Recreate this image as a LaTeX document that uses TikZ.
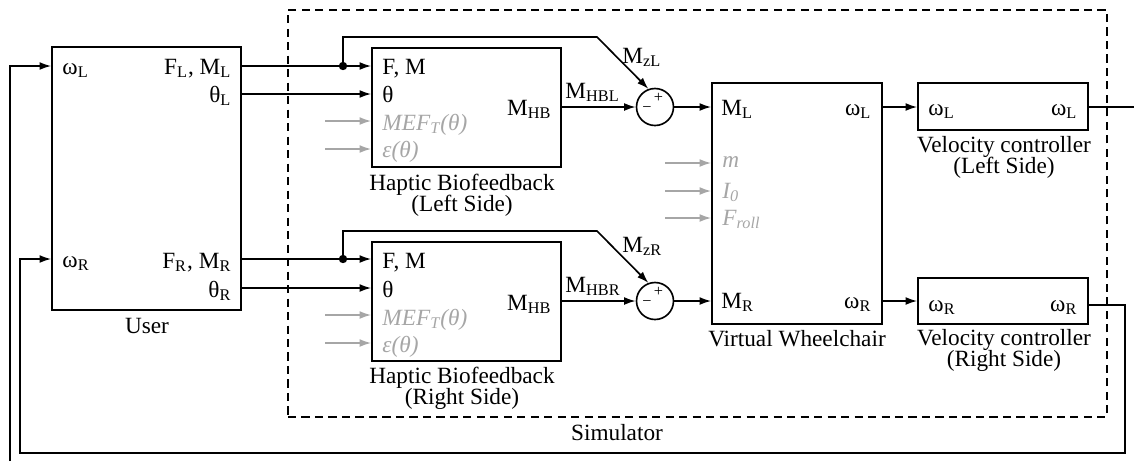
\documentclass[tikz,border=0pt]{standalone}
\usepackage{fontspec}
\setmainfont{Liberation Serif}
\usetikzlibrary{arrows.meta}
\def\pxu{0.43pt}
\tikzset{
  sig/.style={-{Latex[length=5pt,width=3.4pt]}, line width=0.7pt},
  aux/.style={-{Latex[length=5pt,width=3.4pt]}, line width=0.7pt, black!35},
  wire/.style={line width=0.7pt},
  auxlbl/.style={text=black!35, font=\itshape},
  capt/.style={align=center, anchor=north},
}
\newcommand{\wcblock}[4]{\node at (#2) (#1) [draw, line width=0.7pt, minimum width=#3*\pxu, minimum height=#4*\pxu] {};}
\newcommand{\wcsum}[2]{\node at (#2) (#1) [circle, draw, line width=0.7pt, minimum size=37*\pxu] {};
  \node [font=\fontsize{7}{8}\selectfont] (#1p) at ([xshift=1.5pt, yshift=4pt]#1.center) {+};
  \node [font=\fontsize{7}{8}\selectfont] (#1m) at ([xshift=-3.5pt, yshift=-1.2pt]#1.center) {\textminus};}

\begin{document}
\begin{tikzpicture}[x=\pxu, y=-\pxu, every node/.style={inner sep=0pt}]
\useasboundingbox (0,0) rectangle (1134,461);

% simulator frame
\node at (697.5,213.5) (sim) [draw, line width=0.7pt, dash pattern=on 3.5pt off 2.3pt, minimum width=819*\pxu, minimum height=407*\pxu] {};
\node [anchor=north] (simcap) at (617,424) {Simulator};

% blocks
\wcblock{user}{146.5,178.5}{189}{263}
\wcblock{hbL}{466.5,107.5}{189}{119}
\wcblock{hbR}{466.5,301.5}{189}{119}
\wcblock{vw}{797,203.5}{170}{241}
\wcblock{vcL}{1003,106.5}{170}{47}
\wcblock{vcR}{1003,301}{170}{46}
\wcsum{sumL}{655,107}
\wcsum{sumR}{655,301}

% captions
\node [capt] (usercap) at (147,318) {User};
\node [capt] (hbLcap) at (462,174) {Haptic Biofeedback\\[-3.2pt](Left Side)};
\node [capt] (hbRcap) at (462,367) {Haptic Biofeedback\\[-3.2pt](Right Side)};
\node [capt] (vwcap) at (797,330) {Virtual Wheelchair};
\node [capt] (vcLcap) at (1004,136) {Velocity controller\\[-3.2pt](Left Side)};
\node [capt] (vcRcap) at (1004,329) {Velocity controller\\[-3.2pt](Right Side)};

% user ports
\node [anchor=base west] (uwL) at (62,74) {ω\textsubscript{L}};
\node [anchor=base east] (uFL) at (232,74) {F\textsubscript{L}, M\textsubscript{L}};
\node [anchor=base east] (uthL) at (232,102) {θ\textsubscript{L}};
\node [anchor=base west] (uwR) at (62,267) {ω\textsubscript{R}};
\node [anchor=base east] (uFR) at (232,268) {F\textsubscript{R}, M\textsubscript{R}};
\node [anchor=base east] (uthR) at (232,297) {θ\textsubscript{R}};

% haptic biofeedback ports
\node [anchor=base west] (hbLF) at (382,74) {F, M};
\node [anchor=base west] (hbLth) at (382,102) {θ};
\node [anchor=base west, auxlbl] (hbLmef) at (382,130) {MEF\textsubscript{T}(θ)};
\node [anchor=base west, auxlbl] (hbLeps) at (382,157) {ε(θ)};
\node [anchor=base east] (hbLout) at (552,115) {M\textsubscript{HB}};
\node [anchor=base west] (hbRF) at (382,268) {F, M};
\node [anchor=base west] (hbRth) at (382,297) {θ};
\node [anchor=base west, auxlbl] (hbRmef) at (382,325) {MEF\textsubscript{T}(θ)};
\node [anchor=base west, auxlbl] (hbReps) at (382,352) {ε(θ)};
\node [anchor=base east] (hbRout) at (552,310) {M\textsubscript{HB}};

% wheelchair ports
\node [anchor=base west] (vwML) at (721,115) {M\textsubscript{L}};
\node [anchor=base east] (vwwL) at (872,115) {ω\textsubscript{L}};
\node [anchor=base west, auxlbl] (vwm) at (722,167) {m};
\node [anchor=base west, auxlbl] (vwI) at (722,198) {I\textsubscript{0}};
\node [anchor=base west, auxlbl] (vwF) at (722,225) {F\textsubscript{roll}};
\node [anchor=base west] (vwMR) at (721,308) {M\textsubscript{R}};
\node [anchor=base east] (vwwR) at (872,308) {ω\textsubscript{R}};

% velocity controller ports
\node [anchor=base west] (vcLin) at (928,115) {ω\textsubscript{L}};
\node [anchor=base east] (vcLout) at (1078,115) {ω\textsubscript{L}};
\node [anchor=base west] (vcRin) at (928,311) {ω\textsubscript{R}};
\node [anchor=base east] (vcRout) at (1078,311) {ω\textsubscript{R}};

% signal labels
\node [anchor=base west] (mhbl) at (565,98) {M\textsubscript{HBL}};
\node [anchor=base west] (mhbr) at (565,292) {M\textsubscript{HBR}};
\node [anchor=base west] (mzl) at (622,63) {M\textsubscript{zL}};
\node [anchor=base west] (mzr) at (622,252) {M\textsubscript{zR}};

% branch points and bends
\node [circle, fill, minimum size=3.6pt] (dotL) at (343,66) {};
\node [circle, fill, minimum size=3.6pt] (dotR) at (343,259) {};
\coordinate (kneeL) at (597,37);
\coordinate (kneeR) at (597,231);
\coordinate (outL) at (1134,107);
\coordinate (cornR) at (1125,305);
\coordinate (cornB) at (20,453);
\coordinate (fbL) at (10,461);

% left side
\draw [wire] (user.east |- dotL) -- (dotL.center);
\draw [sig] (dotL.center) -- (hbL.west |- dotL);
\draw [sig] (dotL.center) |- (kneeL) -- (sumL.110);
\draw [sig] (user.east |- 0,94) -- (hbL.west |- 0,94);
\draw [aux] (325,121) -- (hbL.west |- 0,121);
\draw [aux] (325,149) -- (hbL.west |- 0,149);
\draw [sig] (hbL.east |- sumL) -- (sumL.west);
\draw [sig] (sumL.east) -- (vw.west |- sumL);
\draw [sig] (vw.east |- sumL) -- (vcL.west |- sumL);
\draw [wire] (vcL.east |- outL) -- (outL);

% right side
\draw [wire] (user.east |- dotR) -- (dotR.center);
\draw [sig] (dotR.center) -- (hbR.west |- dotR);
\draw [sig] (dotR.center) |- (kneeR) -- (sumR.110);
\draw [sig] (user.east |- 0,288) -- (hbR.west |- 0,288);
\draw [aux] (325,315) -- (hbR.west |- 0,315);
\draw [aux] (325,343) -- (hbR.west |- 0,343);
\draw [sig] (hbR.east |- sumR) -- (sumR.west);
\draw [sig] (sumR.east) -- (vw.west |- sumR);
\draw [sig] (vw.east |- sumR) -- (vcR.west |- sumR);

% wheelchair parameters
\draw [aux] (665,163) -- (vw.west |- 0,163);
\draw [aux] (665,191) -- (vw.west |- 0,191);
\draw [aux] (665,218) -- (vw.west |- 0,218);

% feedback
\draw [sig] (vcR.east |- cornR) -- (cornR) |- (cornB) |- (user.west |- 0,259);
\draw [sig] (fbL) |- (user.west |- 0,66);

\end{tikzpicture}
\end{document}
